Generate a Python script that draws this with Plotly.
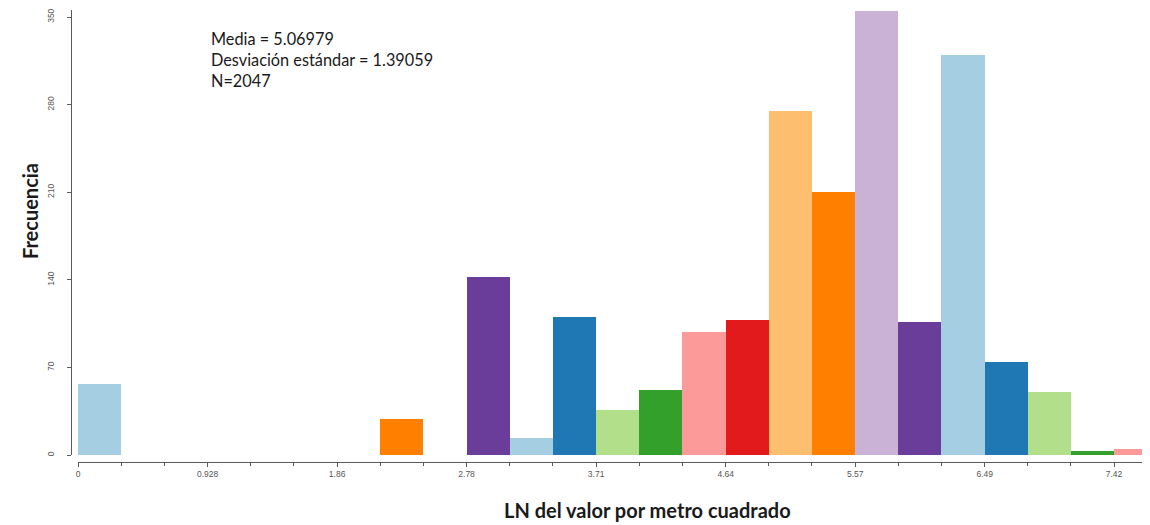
import plotly.graph_objects as go

# ---- data ----
bin_width = 7.42 / 24
counts = [57, 0, 0, 0, 0, 0, 0, 29, 0, 142, 14, 110, 36, 52, 98, 108,
          275, 210, 355, 106, 320, 74, 50, 3, 5]
palette = ["#a6cee3", "#1f78b4", "#b2df8a", "#33a02c", "#fb9a99",
           "#e31a1c", "#fdbf6f", "#ff7f00", "#cab2d6", "#6a3d9a"]
x_tickvals = [0, 0.928, 1.856, 2.783, 3.711, 4.639, 5.567, 6.494, 7.42]
x_ticktext = ["0", "0.928", "1.86", "2.78", "3.71", "4.64", "5.57", "6.49", "7.42"]
y_tickvals = [0, 70, 140, 210, 280, 350]
stats_lines = ["Media = 5.06979", "Desviación estándar = 1.39059", "N=2047"]
x_title = "LN del valor por metro cuadrado"
y_title = "Frecuencia"

centers = [(i + 0.5) * bin_width for i in range(len(counts))]
colors = [palette[i % len(palette)] for i in range(len(counts))]

OFF = 8  # page body margin
W, H = 1150 - OFF, 525 - OFF
ml = 71 - OFF
mr = 0
mt = 0
mb = 525 - 462
pw, ph = W - ml - mr, H - mt - mb


def px_x(p):
    return (p - OFF - ml) / pw


def px_y(p):
    return (H - mb - (p - OFF)) / ph


fig = go.Figure()
fig.add_trace(go.Bar(
    x=centers, y=counts, width=bin_width,
    marker=dict(color=colors, line=dict(width=0)),
    hoverinfo="x+y", showlegend=False,
))

axis_col = "#5a5a5a"
tick_font = dict(family="Liberation Sans, Arial, sans-serif", size=8.5, color="#555555")

x0_px, x742_px = 78, 1114
y0_px, unit_px = 455, 1.257
top_px = OFF  # top of plotting area in window pixels

fig.update_layout(
    width=W, height=H,
    margin=dict(l=ml, r=mr, t=mt, b=mb, pad=0),
    paper_bgcolor="white", plot_bgcolor="white",
    bargap=0,
    xaxis=dict(
        domain=[px_x(x0_px), 1],
        range=[0, (1150 - x0_px) / (x742_px - x0_px) * 7.42],
        anchor="free", position=0,
        tickmode="array", tickvals=x_tickvals, ticktext=x_ticktext,
        ticks="outside", ticklen=4, tickcolor=axis_col, tickwidth=1,
        minor=dict(tickmode="linear", tick0=0, dtick=bin_width,
                   ticks="outside", ticklen=3, tickcolor=axis_col),
        showline=True, linecolor=axis_col, linewidth=1,
        showgrid=False, zeroline=False, tickfont=tick_font,
        ticklabeloverflow="allow",
    ),
    yaxis=dict(
        domain=[px_y(y0_px), 1], range=[0, (y0_px - top_px) / unit_px],
        anchor="free", position=0,
        tickmode="array", tickvals=y_tickvals,
        tickangle=-90, ticklabelstandoff=10,
        ticks="outside", ticklen=4, tickcolor=axis_col, tickwidth=1,
        showline=True, linecolor=axis_col, linewidth=1,
        showgrid=False, zeroline=False, tickfont=tick_font,
        ticklabeloverflow="allow",
    ),
    annotations=[
        dict(text="<br>".join(stats_lines), xref="paper", yref="paper",
             x=px_x(209), y=px_y(25), xanchor="left", yanchor="top",
             align="left", showarrow=False,
             font=dict(family="Lato, sans-serif", size=16.3, color="#1a1a1a")),
        dict(text="<b>" + x_title + "</b>", xref="paper", yref="paper",
             x=px_x(647), y=px_y(510), xanchor="center", yanchor="middle",
             showarrow=False,
             font=dict(family="Lato, sans-serif", size=20, color="#1a1a1a")),
        dict(text="<b>" + y_title + "</b>", xref="paper", yref="paper",
             x=px_x(30), y=px_y(210), xanchor="center", yanchor="middle",
             textangle=-90, showarrow=False,
             font=dict(family="Lato, sans-serif", size=20, color="#1a1a1a")),
    ],
)

fig.write_html("out.html")
